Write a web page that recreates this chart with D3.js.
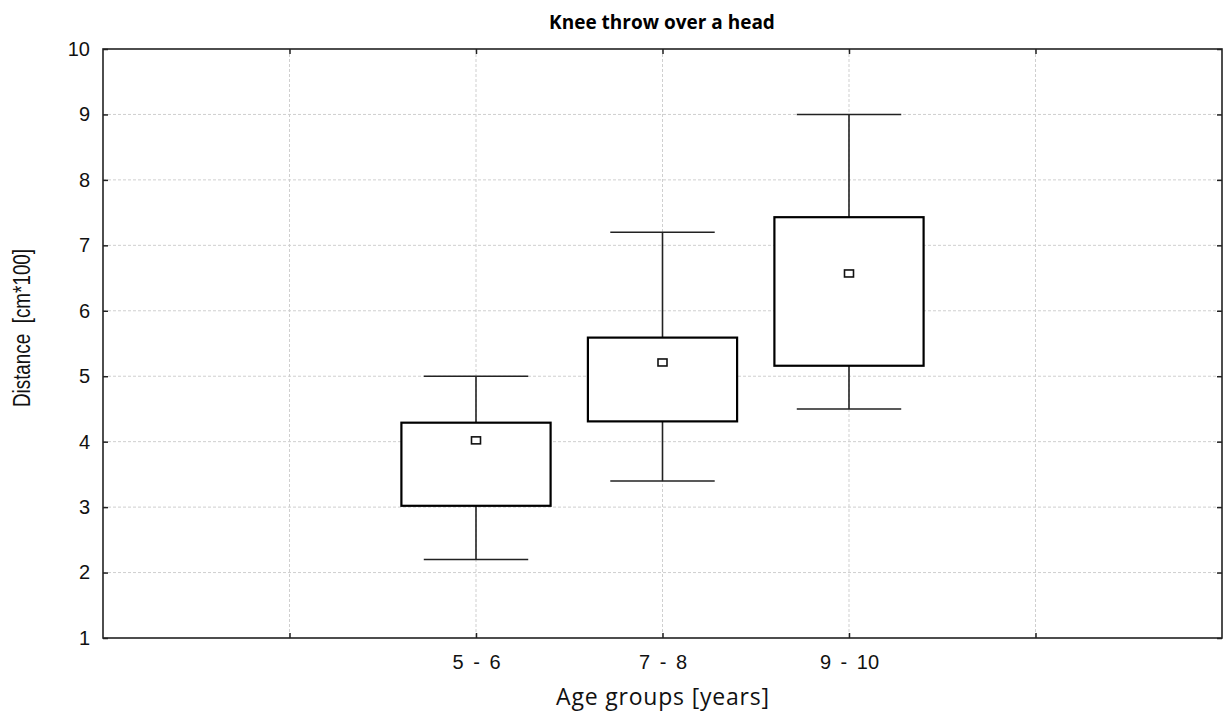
<!DOCTYPE html>
<html>
<head>
<meta charset="utf-8">
<script src="https://cdn.jsdelivr.net/npm/d3@7"></script>
<style>
  body { margin: 0; background: #fff; }
  svg { display: block; }
</style>
</head>
<body>
<div id="graph"></div>
<script>
// data
const groups = ["5 - 6", "7 - 8", "9 - 10"];
const whiskerLow = [2.2, 3.4, 4.5];
const boxLow = [3.02, 4.31, 5.16];
const means = [4.02, 5.21, 6.57];
const boxHigh = [4.29, 5.59, 7.43];
const whiskerHigh = [5.0, 7.2, 9.0];
const yTicks = [1, 2, 3, 4, 5, 6, 7, 8, 9, 10];

const rows = groups.map((g, i) => ({
  group: g, pos: i + 2,
  wlo: whiskerLow[i], lo: boxLow[i], mean: means[i], hi: boxHigh[i], whi: whiskerHigh[i]
}));

const W = 1223, H = 711;
const margin = { top: 49, right: 1, bottom: 73, left: 103 };
const width = W - margin.left - margin.right,
      height = H - margin.top - margin.bottom;

const svg = d3.select("#graph").append("svg")
  .attr("width", W).attr("height", H);
const g = svg.append("g")
  .attr("transform", `translate(${margin.left},${margin.top})`);

// categories sit at 2,3,4 on a 0..6 axis
const x = d3.scaleLinear().domain([0, 6]).range([0, width]);
const y = d3.scaleLinear().domain([1, 10]).range([height, 0]);

// grid
g.append("g").selectAll("line")
  .data(yTicks.slice(1, -1)).enter().append("line")
  .attr("x1", 0).attr("x2", width)
  .attr("y1", d => y(d)).attr("y2", d => y(d))
  .attr("stroke", "#cfcfcf").attr("stroke-dasharray", "3,2");
g.append("g").selectAll("line")
  .data([1, 2, 3, 4, 5]).enter().append("line")
  .attr("y1", 0).attr("y2", height)
  .attr("x1", d => x(d)).attr("x2", d => x(d))
  .attr("stroke", "#cfcfcf").attr("stroke-dasharray", "3,2");

// axes, ticks pointing inward
const tickFont = "'Liberation Sans', Arial, sans-serif";
const yAxis = g.append("g")
  .call(d3.axisLeft(y).tickValues(yTicks).tickSize(-5).tickPadding(13).tickSizeOuter(0));
yAxis.selectAll("text")
  .style("font-family", tickFont).style("font-size", "20px").attr("fill", "#111");

g.append("g").attr("transform", `translate(${width},0)`)
  .call(d3.axisRight(y).tickValues(yTicks).tickSize(-5).tickSizeOuter(0).tickFormat(""));

const xAxis = g.append("g").attr("transform", `translate(0,${height})`)
  .call(d3.axisBottom(x).tickValues([1, 2, 3, 4, 5]).tickSize(-5).tickPadding(17).tickSizeOuter(0)
    .tickFormat(d => (d >= 2 && d <= 4) ? groups[d - 2] : ""));
xAxis.selectAll("text")
  .style("font-family", tickFont).style("font-size", "20px")
  .style("word-spacing", "4px").attr("fill", "#111");

g.append("g")
  .call(d3.axisTop(x).tickValues([1, 2, 3, 4, 5]).tickSize(-5).tickSizeOuter(0).tickFormat(""));

g.selectAll(".domain").remove();
g.selectAll(".tick line").attr("stroke", "#222").attr("stroke-width", 1.5);

// frame
g.append("rect")
  .attr("x", 0).attr("y", 0).attr("width", width).attr("height", height)
  .attr("fill", "none").attr("stroke", "#222").attr("stroke-width", 1.6);

// boxes
const boxW = 0.8, capW = 0.56;
const bp = g.append("g").selectAll("g").data(rows).enter().append("g");

bp.append("line")
  .attr("x1", d => x(d.pos)).attr("x2", d => x(d.pos))
  .attr("y1", d => y(d.whi)).attr("y2", d => y(d.wlo))
  .attr("stroke", "#222").attr("stroke-width", 1.6);
bp.append("line")
  .attr("x1", d => x(d.pos - capW / 2)).attr("x2", d => x(d.pos + capW / 2))
  .attr("y1", d => y(d.whi)).attr("y2", d => y(d.whi))
  .attr("stroke", "#222").attr("stroke-width", 1.6);
bp.append("line")
  .attr("x1", d => x(d.pos - capW / 2)).attr("x2", d => x(d.pos + capW / 2))
  .attr("y1", d => y(d.wlo)).attr("y2", d => y(d.wlo))
  .attr("stroke", "#222").attr("stroke-width", 1.6);
bp.append("rect")
  .attr("x", d => x(d.pos - boxW / 2))
  .attr("width", x(boxW) - x(0))
  .attr("y", d => y(d.hi))
  .attr("height", d => y(d.lo) - y(d.hi))
  .attr("fill", "#fff").attr("stroke", "#000").attr("stroke-width", 2.2);
bp.append("rect")
  .attr("x", d => x(d.pos) - 4.5).attr("y", d => y(d.mean) - 3.5)
  .attr("width", 9).attr("height", 7)
  .attr("fill", "#fff").attr("stroke", "#111").attr("stroke-width", 1.6);

// titles
svg.append("text")
  .attr("x", 662).attr("y", 29).attr("text-anchor", "middle")
  .style("font-family", "'Open Sans', 'Noto Sans', sans-serif")
  .style("font-weight", "bold").style("font-size", "19px")
  .text("Knee throw over a head");

svg.append("text")
  .attr("x", 663).attr("y", 705).attr("text-anchor", "middle")
  .style("font-family", "'Open Sans', 'Noto Sans', sans-serif")
  .style("font-size", "23px").style("letter-spacing", "0.8px").attr("fill", "#111")
  .text("Age groups [years]");

svg.append("text")
  .attr("transform", `translate(30,328) rotate(-90) scale(0.82,1)`)
  .attr("text-anchor", "middle")
  .style("font-family", "'Liberation Sans', Arial, sans-serif")
  .style("font-size", "23px").attr("fill", "#111")
  .style("white-space", "pre")
  .text("Distance  [cm*100]");
</script>
</body>
</html>
